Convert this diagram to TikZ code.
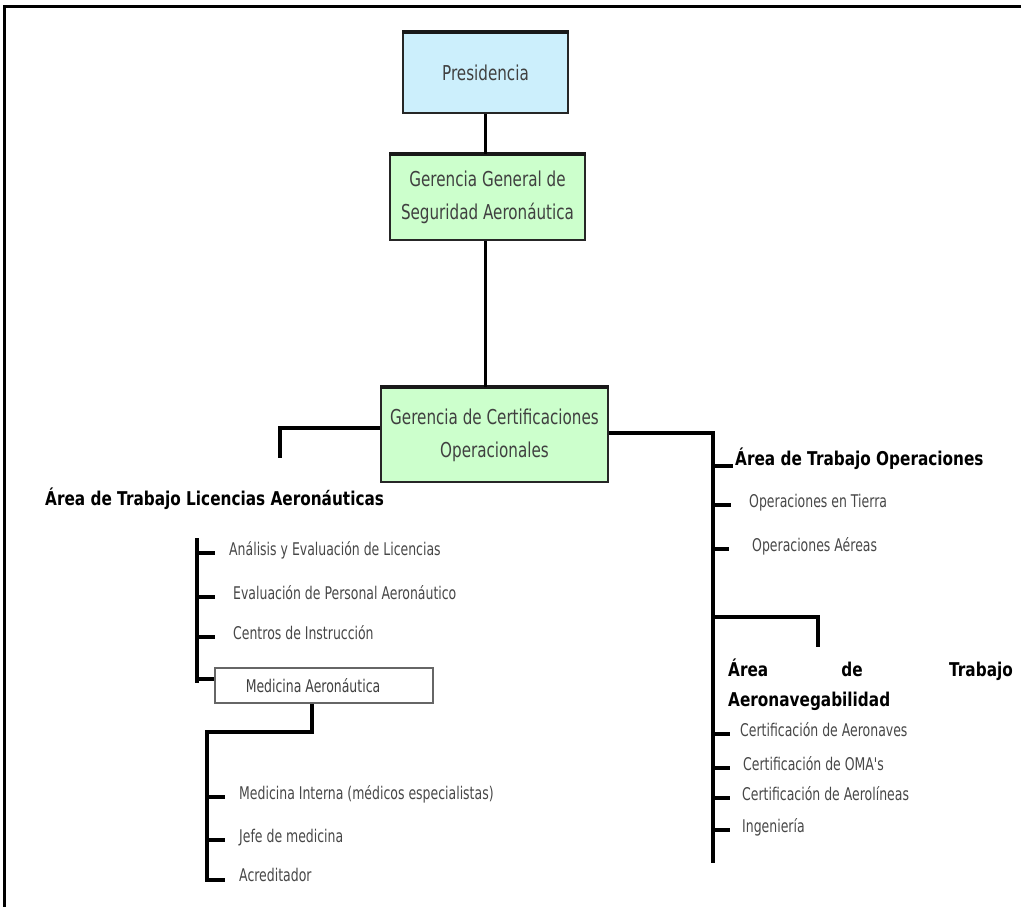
\documentclass[tikz,border=0pt]{standalone}
\usepackage{fontspec}
\setmainfont{DejaVu Sans}[FakeStretch=0.74]
\newfontfamily\headfont{DejaVu Sans}[FakeStretch=0.805]
\newfontfamily\itemfont{DejaVu Sans}[FakeStretch=0.713]
\begin{document}
\begin{tikzpicture}[x=1pt,y=-1pt,
  wire/.style={line width=3.6pt,black},
  stub/.style={line width=4.5pt,black},
  unitbox/.style={draw=black!85,line width=1.8pt,align=center,inner sep=0pt,
    font=\fontsize{20.5}{33}\selectfont,text=black!75},
  item/.style={anchor=west,inner sep=0pt,text=black!72,
    font=\itemfont\fontsize{17.5}{20}\selectfont,text height=0.75em,text depth=0.25em},
  head/.style={anchor=west,inner sep=0pt,text=black,
    font=\headfont\bfseries\fontsize{19}{30}\selectfont,text height=0.75em,text depth=0.25em}]
\useasboundingbox (0,0) rectangle (1021,907);
% outer frame (top and left edges)
\draw[line width=3pt] (4,907) -- (4,7) -- (1021,7);

% management boxes
\node[unitbox,fill=cyan!20,minimum width=165pt,minimum height=80pt] (pres) at (485.5,73) {Presidencia};
\node[unitbox,fill=green!20,minimum width=195pt,minimum height=85pt] (ggsa) at (487.5,197.5) {Gerencia General de\\Seguridad Aeronáutica};
\node[unitbox,fill=green!20,minimum width=227pt,minimum height=94pt] (gco) at (494.5,435) {Gerencia de Certificaciones\\Operacionales};
\foreach \b in {pres,ggsa,gco}
  \draw[line width=4.5pt,black!90] (\b.north west) -- (\b.north east);

\draw[wire] (pres.south) -- (pres.south |- ggsa.north);
\draw[wire] (pres.south |- ggsa.south) -- (pres.south |- gco.north);

% left branch: licencias
\coordinate (lend) at (280,458);
\draw[wire] (gco.west |- 0,428) -| (lend);
\node[head] (lic) at (45,503) {Área de Trabajo Licencias Aeronáuticas};

\coordinate (ltop) at (197,538);
\node[item] (l1) at (229,553) {Análisis y Evaluación de Licencias};
\node[item] (l2) at (233,597) {Evaluación de Personal Aeronáutico};
\node[item] (l3) at (233,637) {Centros de Instrucción};
\node[draw=black!60,line width=1.8pt,fill=white,minimum width=218pt,minimum height=35pt,
  inner sep=0pt,text=black!75,font=\itemfont\fontsize{17.5}{20}\selectfont] (med) at (324,685.5) {\hspace*{-22pt}Medicina Aeronáutica};
\coordinate (lbot) at (197,683);
\draw[wire] (ltop) -- (lbot);
\foreach \n in {l1,l2,l3}
  \draw[stub] (ltop |- \n.west) -- ++(18,0);
\draw[stub] (ltop |- 0,679) -- (med.west |- 0,679);

% medicina sub-branch
\coordinate (mturn) at (207,732);
\coordinate (mbot) at (207,880);
\node[item] (m1) at (239,797) {Medicina Interna (médicos especialistas)};
\node[item] (m2) at (239,840) {Jefe de medicina};
\node[item] (m3) at (239,879) {Acreditador};
\draw[wire] (med.south -| 312,0) |- (mturn) -- (mbot) -- ++(18,0);
\draw[stub] (mturn |- m1.west) -- ++(18,0);
\draw[stub] (mturn |- m2.west) -- ++(18,0);

% right branch: operaciones and aeronavegabilidad
\coordinate (rturn) at (713,433);
\coordinate (rbot) at (713,863);
\draw[wire] (gco.east |- rturn) -- (rturn) -- (rbot);
\node[head] (ops) at (735,463) {Área de Trabajo Operaciones};
\node[item] (o1) at (749,505) {Operaciones en Tierra};
\node[item] (o2) at (752,549) {Operaciones Aéreas};
\draw[stub] (rturn |- 0,466) -- ++(20,0);
\draw[stub] (rturn |- o1.west) -- ++(18,0);
\draw[stub] (rturn |- o2.west) -- ++(16,0);

\coordinate (aturn) at (818,617);
\coordinate (aend) at (818,647);
\draw[wire] (rturn |- aturn) -- (aturn) -- (aend);
\node[head] (a0a) at (728,674) {Área};
\node[head,anchor=center] (a0b) at (852,674) {de};
\node[head,anchor=east] (a0c) at (1013,674) {Trabajo};
\node[head] (a0d) at (728,704) {Aeronavegabilidad};

\node[item] (a1) at (740,734) {Certificación de Aeronaves};
\node[item] (a2) at (743,768) {Certificación de OMA's};
\node[item] (a3) at (742,798) {Certificación de Aerolíneas};
\node[item] (a4) at (742,830) {Ingeniería};
\foreach \n in {a1,a2,a3,a4}
  \draw[stub] (rturn |- \n.west) -- ++(17,0);
\end{tikzpicture}
\end{document}
